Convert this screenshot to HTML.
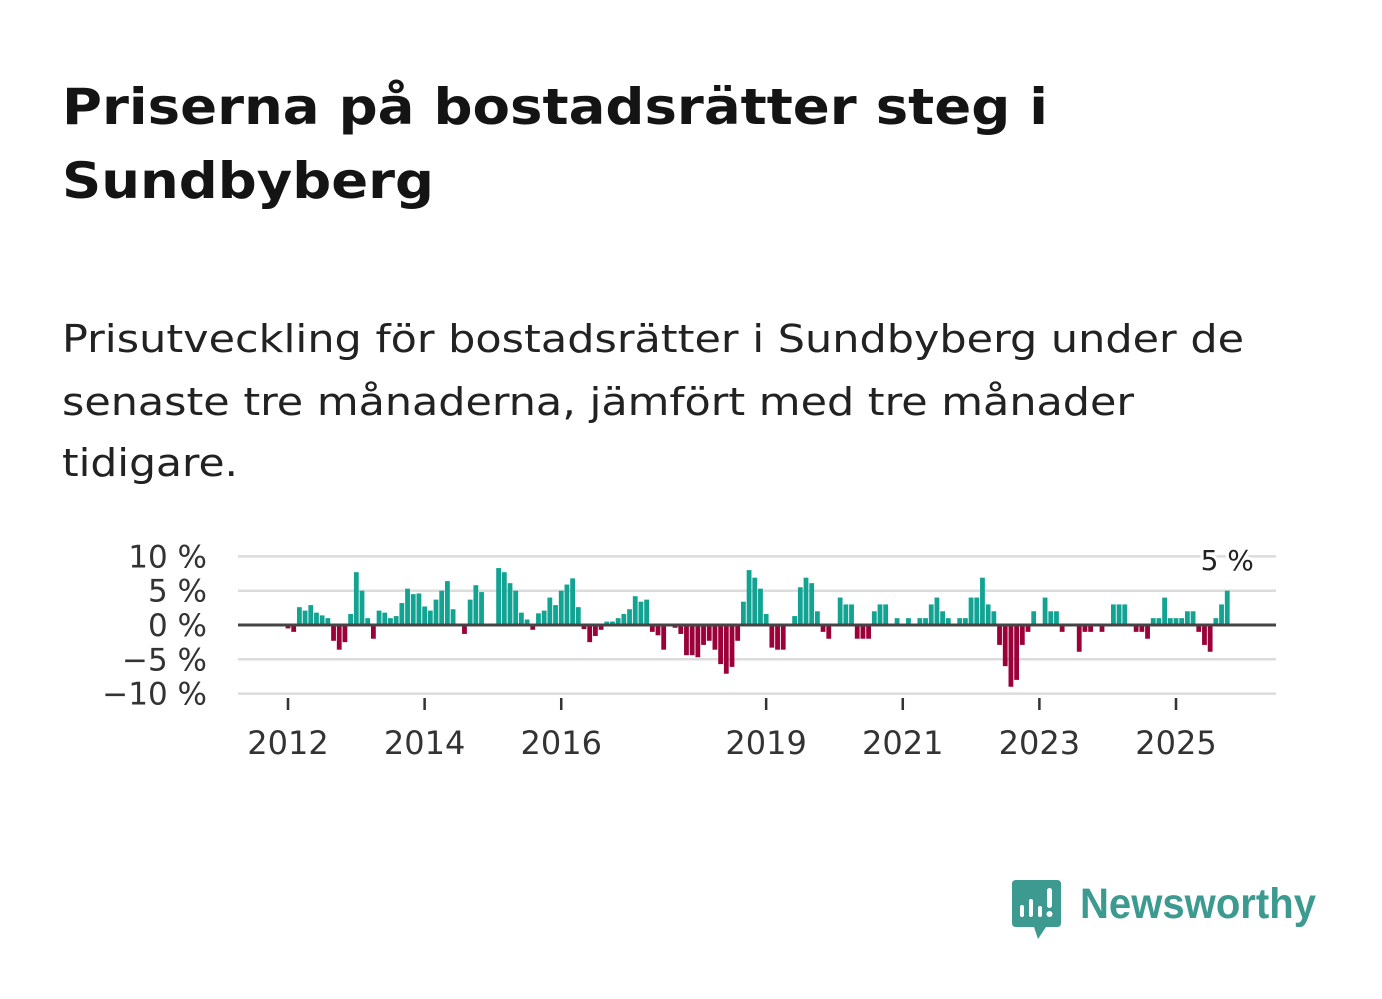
<!DOCTYPE html>
<html><head><meta charset="utf-8"><style>
html,body{margin:0;padding:0;background:#fff;}
svg{display:block;font-family:"DejaVu Sans","Liberation Sans",sans-serif;}
</style></head><body>
<svg id="chart" width="1382" height="999" viewBox="0 0 1382 999">
<text x="62" y="124" font-size="50" font-weight="bold" fill="#141414" textLength="986" lengthAdjust="spacingAndGlyphs">Priserna på bostadsrätter steg i</text>
<text x="62" y="198" font-size="50" font-weight="bold" fill="#141414" textLength="372" lengthAdjust="spacingAndGlyphs">Sundbyberg</text>
<text x="62" y="352" font-size="38" fill="#222" textLength="1182" lengthAdjust="spacingAndGlyphs">Prisutveckling för bostadsrätter i Sundbyberg under de</text>
<text x="62" y="415" font-size="38" fill="#222" textLength="1072" lengthAdjust="spacingAndGlyphs">senaste tre månaderna, jämfört med tre månader</text>
<text x="62" y="476" font-size="38" fill="#222" textLength="176" lengthAdjust="spacingAndGlyphs">tidigare.</text>
<g id="grid"></g><g id="bars"></g><g id="axes"></g>
<g>
<path d="M1016 880 H1057 Q1061 880 1061 884 V923 Q1061 927 1057 927 H1046 L1038 939 L1034 927 H1016 Q1012 927 1012 923 V884 Q1012 880 1016 880 Z" fill="#3d9a90"/>
<rect x="1020" y="905" width="4" height="12" rx="2" fill="#fff"/>
<rect x="1029" y="899" width="4" height="18" rx="2" fill="#fff"/>
<rect x="1038" y="906" width="4" height="11" rx="2" fill="#fff"/>
<rect x="1047" y="888" width="5" height="20" rx="2.5" fill="#fff"/>
<circle cx="1049.5" cy="914" r="3" fill="#fff"/>
<text x="1080" y="918" font-size="43" font-weight="bold" fill="#3d9a90" textLength="236" lengthAdjust="spacingAndGlyphs" font-family="Liberation Sans, sans-serif">Newsworthy</text>
</g>
</svg>
<script>
const yTicks = [10, 5, 0, -5, -10];
const yTickLabels = ["10 %", "5 %", "0 %", "\u22125 %", "\u221210 %"];
const xTickYears = [2012, 2014, 2016, 2019, 2021, 2023, 2025];
const startYear = 2012;
const values = [
-0.5,-1.0,2.6,2.1,2.9,1.8,1.4,1.0,-2.3,-3.6,-2.5,1.6,7.7,5.0,1.0,-2.0,2.1,1.8,1.0,1.3,3.2,5.3,4.5,4.6,2.7,2.1,3.7,5.0,6.4,2.3,0,-1.3,3.7,5.8,4.8,0,0,
8.3,7.7,6.1,5.0,1.8,0.8,-0.7,1.7,2.1,4.0,2.9,5.0,5.9,6.8,2.6,-0.6,-2.5,-1.6,-0.7,0.5,0.5,1.0,1.6,2.3,4.2,3.4,3.7,-1.0,-1.5,-3.6,0,-0.4,-1.3,-4.4,-4.4,-4.7,-2.9,-2.3,-3.6,-5.7,-7.1,-6.1,-2.3,3.4,8.0,6.9,5.3,
1.6,-3.3,-3.6,-3.6,0,1.3,5.5,6.9,6.1,2.0,-1.0,-2.0,0,4.0,3.0,3.0,-2.0,-2.0,-2.0,2.0,3.0,3.0,0,1.0,0,1.0,0,1.0,1.0,3.0,4.0,2.0,1.0,0,1.0,1.0,4.0,4.0,6.9,3.0,2.0,-2.9,-6.0,-9.0,-8.0,
-2.9,-1.0,2.0,0,4.0,2.0,2.0,-1.0,0,0,-3.9,-1.0,-1.0,0,-1.0,0,3.0,3.0,3.0,0,-1.0,-1.0,-2.0,1.0,1.0,4.0,1.0,1.0,1.0,2.0,2.0,-1.0,-2.9,-3.9,1.0,3.0,5.0
];
const lastLabel = "5 %";

const NS = "http://www.w3.org/2000/svg";
function yScale(v){ return 625 - v * 6.86; }
function xScale(m){ return 288 + m * (1176 - 288) / 156; }
function mk(tag, attrs, parent){ const e = document.createElementNS(NS, tag); for (const k in attrs) e.setAttribute(k, attrs[k]); parent.appendChild(e); return e; }
const grid = document.getElementById('grid'), bars = document.getElementById('bars'), axes = document.getElementById('axes');
yTicks.forEach((t, i) => {
  if (t !== 0) {
    const l = mk('line', {x1:238, x2:1276, y1:yScale(t), y2:yScale(t), stroke:'#dcdcdc', 'stroke-width':2.5}, grid);
    
    
  }
  const tx = mk('text', {x:207, y:yScale(t)+11, 'text-anchor':'end', 'font-size':31, fill:'#333'}, axes);
  tx.textContent = yTickLabels[i];
  
  
});
const bw = 4.8;
values.forEach((v, i) => {
  if (v === 0) return;
  const x = xScale(i);
  const y0 = yScale(0), y1 = yScale(v);
  const r = mk('rect', {x:x - bw/2, y:Math.min(y0, y1), width:bw, height:Math.abs(y1 - y0), fill: v > 0 ? '#12a393' : '#9b0039'}, bars);
  
  
});
const zl = mk('line', {x1:238, x2:1276, y1:yScale(0), y2:yScale(0), stroke:'#444', 'stroke-width':3}, axes);


xTickYears.forEach(yr => {
  const x = xScale((yr - startYear) * 12);
  const tk = mk('line', {x1:x, x2:x, y1:698, y2:710, stroke:'#333', 'stroke-width':2.5}, axes);
  
  
  const tx = mk('text', {x:x, y:754, 'text-anchor':'middle', 'font-size':32, fill:'#333'}, axes);
  tx.textContent = String(yr);
  
  
});
const li = values.length - 1;
const lb = mk('text', {x:xScale(li), y:570, 'text-anchor':'middle', 'font-size':28, fill:'#222', stroke:'#fff', 'stroke-width':6, 'paint-order':'stroke'}, axes);
lb.textContent = lastLabel;


</script>
</body></html>
